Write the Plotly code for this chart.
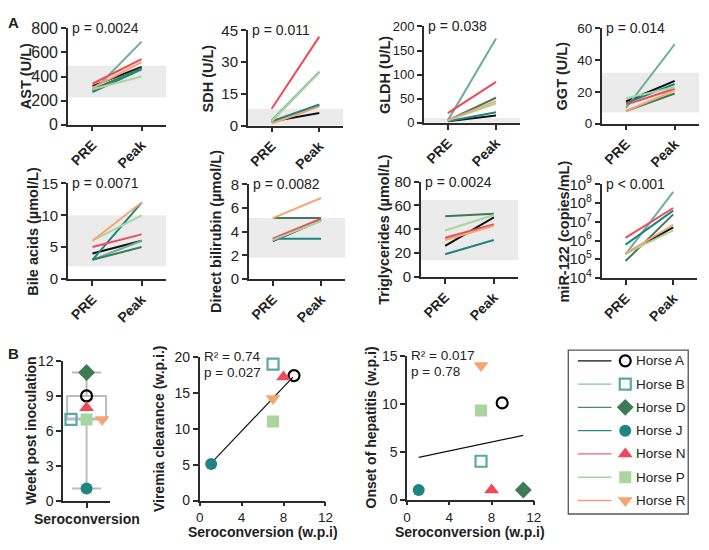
import plotly.graph_objects as go

W, H = 709, 550
FONT = 'Liberation Sans, Arial, sans-serif'
DARK = '#2b2b2b'

horses = ['Horse A', 'Horse B', 'Horse D', 'Horse J', 'Horse N', 'Horse P', 'Horse R']
timepoints = ['PRE', 'Peak']

# Panel A, one value per horse (A, B, D, J, N, P, R)
ast_pre = [320, 275, 290, 270, 340, 295, 305]
ast_peak = [480, 690, 470, 460, 545, 400, 520]
sdh_pre = [2, 2.5, 2, 2, 8, 2, 1]
sdh_peak = [6, 25.5, 9.5, 10, 42, 25, 9]
gldh_pre = [3, 5, 5, 3, 20, 5, 5]
gldh_peak = [15, 175, 52, 22, 85, 40, 45]
ggt_pre = [14, 10, 8, 13, 12, 16, 8]
ggt_peak = [27, 50, 19, 25, 22, 23, 21]
bile_pre = [4, 3, 3, 3, 5, 6, 6]
bile_peak = [6, 6, 5, 12, 7, 10, 12]
dbil_pre = [3.2, 3.25, 5.15, 3.4, 3.4, 3.3, 5.15]
dbil_peak = [4.95, 5.0, 5.15, 3.4, 5.1, 4.9, 6.85]
trig_pre = [26, 32, 51, 19, 33, 39, 31]
trig_peak = [50, 44, 53, 31, 44, 52, 43]
mir_pre = [2e5, 1.8e5, 8e4, 6e5, 1.4e6, 2e5, 2e5]
mir_peak = [5e6, 4e8, 2.5e7, 4e7, 5.5e7, 3.5e6, 7e6]

p_values_a = ['p = 0.0024', 'p = 0.011', 'p = 0.038', 'p = 0.014',
              'p = 0.0071', 'p = 0.0082', 'p = 0.0024', 'p < 0.001']

# Panel B
seroconversion = [9, 7, 11, 1.1, 8, 7, 7]
viremia_clearance = [17.4, 19, None, 5.1, 17.2, 11, 14.2]
hepatitis_onset = [10.1, 4, 1, 1, 1, 9.3, 14]
sero_box = dict(q1=7, median=7, q3=9, low=1.1, high=11)
viremia_fit_x = [1.1, 8.9]
viremia_fit_y = [5.2, 17.2]
onset_fit_x = [1.1, 11]
onset_fit_y = [4.4, 6.7]
viremia_stats = ['R² = 0.74', 'p = 0.027']
onset_stats = ['R² = 0.017', 'p = 0.78']

line_colors = ['#111111', '#6cae9c', '#3e7b53', '#1f8581', '#ee4a5a', '#a9d5a1', '#f6a572']
legend_line_colors = ['#111111', '#8dbdc8', '#4a8a5c', '#2a8a88', '#f06070', '#a8d4a0', '#f4a080']
marker_colors = ['#000000', '#5aa9a6', '#3e7b53', '#1f8581', '#ee4a5a', '#a9d5a1', '#f6a572']
symbols = ['circle-open', 'square-open', 'diamond', 'circle', 'triangle-up', 'square', 'triangle-down']
marker_sizes = [11, 11, 13, 12, 13, 12, 13]


def dom_x(left, right):
    return [left / W, right / W]


def dom_y(top, bottom):
    return [1 - bottom / H, 1 - top / H]


def ax(k):
    """Return the short x/y axis ids for subplot k."""
    s = '' if k == 1 else str(k)
    return 'x' + s, 'y' + s


def axis_style(size=15, **kw):
    d = dict(showline=True, linecolor=DARK, linewidth=1.5, ticks='outside', ticklen=5,
             tickwidth=1.5, tickcolor=DARK, showgrid=False, zeroline=False,
             tickfont=dict(family=FONT, size=size, color='#222'))
    d.update(kw)
    return d


def marker_for(i):
    return dict(symbol=symbols[i], color=marker_colors[i], size=marker_sizes[i],
                line=dict(width=2.2 if i < 2 else 0, color=marker_colors[i]))


def paper_text(text, x_px, y_px, size=14, angle=0, xanchor='center'):
    return dict(text=text, xref='paper', yref='paper', x=x_px / W, y=1 - y_px / H,
                xanchor=xanchor, yanchor='middle', textangle=angle, showarrow=False,
                font=dict(family=FONT, size=size, color='#222'))


fig = go.Figure()
annotations = []
shapes = []
layout_axes = {}

###############################################################################
# Panel A
###############################################################################
panels_a = [
    # title, pre, peak, yrange, ticks, band, x domain px, y domain px, title x px, tick size
    ('AST (U/L)', ast_pre, ast_peak, [0, 800], [0, 200, 400, 600, 800], (225, 490), (65, 165), (18, 118), 22, 16),
    ('SDH (U/L)', sdh_pre, sdh_peak, [0, 45], [0, 15, 30, 45], (0, 8), (248, 345), (20, 119), 207, 15),
    ('GLDH (U/L)', gldh_pre, gldh_peak, [0, 200], [0, 50, 100, 150, 200], (0, 10), (427, 525), (16, 116), 387, 13),
    ('GGT (U/L)', ggt_pre, ggt_peak, [0, 60], [0, 20, 40, 60], (7, 32), (608, 707), (18, 117), 568, 13.5),
    ('Bile acids (µmol/L)', bile_pre, bile_peak, [0, 15], [0, 5, 10, 15], (2, 10), (65, 165), (179, 278), 30, 15),
    ('Direct bilirubin (µmol/L)', dbil_pre, dbil_peak, [0, 8], [0, 2, 4, 6, 8], (1.8, 5.15), (249, 347), (180, 278), 215, 15),
    ('Triglycerides (µmol/L)', trig_pre, trig_peak, [0, 80], [0, 20, 40, 60, 80], (14, 64.6), (424, 523), (177, 276), 387, 15),
    ('miR-122 (copies/mL)', mir_pre, mir_peak, None, None, None, (608, 705), (180, 277), 570, 15),
]

for k, (title, pre, peak, yr, ticks, band, xd, yd, tx, tsize) in enumerate(panels_a, start=1):
    xa, ya = ax(k)
    for i, horse in enumerate(horses):
        fig.add_trace(go.Scatter(x=timepoints, y=[pre[i], peak[i]], mode='lines',
                                 line=dict(color=line_colors[i], width=2),
                                 name=horse, xaxis=xa, yaxis=ya, hoverinfo='skip'))
    layout_axes[f'xaxis{k}'] = axis_style(
        domain=dom_x(*xd), anchor=ya, type='category', range=[-0.5, 1.5], tickangle=-45,
        tickfont=dict(family=FONT, size=14, color='#222', weight='bold'))
    if yr is None:
        layout_axes[f'yaxis{k}'] = axis_style(
            size=tsize, domain=dom_y(*yd), anchor=xa, type='log', range=[4, 9],
            tickvals=[10 ** e for e in range(4, 10)],
            ticktext=[f'10<sup>{e}</sup>' for e in range(4, 10)])
    else:
        layout_axes[f'yaxis{k}'] = axis_style(size=tsize, domain=dom_y(*yd), anchor=xa,
                                              range=yr, tickvals=ticks)
    if band is not None:
        shapes.append(dict(type='rect', xref=f'{xa} domain', yref=ya, x0=0, x1=1,
                           y0=band[0], y1=band[1], fillcolor='#ebebeb', line=dict(width=0),
                           layer='below'))
    annotations.append(dict(text=p_values_a[k - 1], xref=f'{xa} domain', yref=f'{ya} domain',
                            x=0, y=1, xanchor='left', yanchor='middle', xshift=2,
                            showarrow=False, font=dict(family=FONT, size=14, color='#222')))
    annotations.append(paper_text(f'<b>{title}</b>', tx, (yd[0] + yd[1]) / 2, size=14.5, angle=-90))

###############################################################################
# Panel B
###############################################################################
# seroconversion box plot
fig.add_trace(go.Box(x=[0], q1=[sero_box['q1']], median=[sero_box['median']],
                     q3=[sero_box['q3']], lowerfence=[sero_box['low']],
                     upperfence=[sero_box['high']], width=1.65, whiskerwidth=0.75,
                     fillcolor='rgba(0,0,0,0)', line=dict(color='#bdbdbd', width=2),
                     boxpoints=False, xaxis='x9', yaxis='y9', hoverinfo='skip'))
jitter = {'Horse B': -0.66, 'Horse R': 0.66}
for i, horse in enumerate(horses):
    fig.add_trace(go.Scatter(x=[jitter.get(horse, 0)], y=[seroconversion[i]], mode='markers',
                             marker=marker_for(i), xaxis='x9', yaxis='y9', hoverinfo='skip'))
layout_axes['xaxis9'] = axis_style(size=13.5, domain=dom_x(60, 108), anchor='y9', range=[-1, 1],
                                   tickvals=[0], showticklabels=False)
layout_axes['yaxis9'] = axis_style(size=14, domain=dom_y(363, 509), anchor='x9', range=[0, 12],
                                   tickvals=[0, 3, 6, 9, 12])
annotations.append(paper_text('<b>Week post inoculation</b>', 28, 436, angle=-90))
annotations.append(paper_text('<b>Seroconversion</b>', 84, 527))

# scatter panels
scatter_panels = [
    (10, viremia_clearance, viremia_fit_x, viremia_fit_y, viremia_stats, [0, 20],
     [0, 5, 10, 15, 20], (199, 327), (359, 508), 'Viremia clearance (w.p.i.)', 157),
    (11, hepatitis_onset, onset_fit_x, onset_fit_y, onset_stats, [0, 15],
     [0, 5, 10, 15], (410, 539), (358, 507), 'Onset of hepatitis (w.p.i)', 373),
]
for k, yvals, fx, fy, stats, yr, ticks, xd, yd, title, tx in scatter_panels:
    xa, ya = ax(k)
    fig.add_trace(go.Scatter(x=fx, y=fy, mode='lines', line=dict(color='#111', width=1.2),
                             xaxis=xa, yaxis=ya, hoverinfo='skip'))
    for i, horse in enumerate(horses):
        if yvals[i] is None:
            continue
        fig.add_trace(go.Scatter(x=[seroconversion[i]], y=[yvals[i]], mode='markers',
                                 marker=marker_for(i), xaxis=xa, yaxis=ya, hoverinfo='skip'))
    layout_axes[f'xaxis{k}'] = axis_style(size=13.5, domain=dom_x(*xd), anchor=ya, range=[0, 12],
                                          tickvals=[0, 4, 8, 12], ticklen=4)
    layout_axes[f'yaxis{k}'] = axis_style(size=14, domain=dom_y(*yd), anchor=xa, range=yr,
                                          tickvals=ticks)
    for j, s in enumerate(stats):
        annotations.append(dict(text=s, xref=f'{xa} domain', yref=f'{ya} domain', x=0, y=1,
                                xanchor='left', yanchor='middle', xshift=2, yshift=-16 * j,
                                showarrow=False, font=dict(family=FONT, size=13.5, color='#222')))
    annotations.append(paper_text(f'<b>{title}</b>', tx, (yd[0] + yd[1]) / 2, angle=-90))
    annotations.append(paper_text('<b>Seroconversion (w.p.i)</b>', (xd[0] + xd[1]) / 2, 541))

# legend box
for i, horse in enumerate(horses):
    fig.add_trace(go.Scatter(x=[0.08, 0.36], y=[horse, horse], mode='lines',
                             line=dict(color=legend_line_colors[i], width=1.3),
                             xaxis='x12', yaxis='y12', hoverinfo='skip'))
    fig.add_trace(go.Scatter(x=[0.475], y=[horse], mode='markers', marker=marker_for(i),
                             xaxis='x12', yaxis='y12', hoverinfo='skip'))
    annotations.append(dict(text=horse, xref='x12', yref='y12', x=0.545, y=horse,
                            xanchor='left', yanchor='middle', showarrow=False,
                            font=dict(family=FONT, size=13.5, color='#222')))
layout_axes['xaxis12'] = dict(domain=dom_x(574, 696), anchor='y12', range=[0, 1], visible=False)
layout_axes['yaxis12'] = dict(domain=dom_y(352, 522), anchor='x12', type='category',
                              categoryarray=horses, range=[6.58, -0.455], visible=False)
shapes.append(dict(type='rect', xref='paper', yref='paper', x0=574 / W, x1=696 / W,
                   y0=1 - 522 / H, y1=1 - 352 / H, line=dict(color='#555', width=1.3)))

# panel letters
annotations.append(paper_text('<b>A</b>', 10, 12, size=15))
annotations.append(paper_text('<b>B</b>', 10, 355, size=15))

fig.update_layout(width=W, height=H, margin=dict(l=0, r=0, t=0, b=0), showlegend=False,
                  paper_bgcolor='white', plot_bgcolor='white', font=dict(family=FONT),
                  annotations=annotations, shapes=shapes, **layout_axes)

# the page body has a default 8px margin; drop it so the figure sits at the window corner
fig.write_html('out.html', config={'displayModeBar': False},
               post_script="document.body.style.margin='0';document.body.style.overflow='hidden';")
